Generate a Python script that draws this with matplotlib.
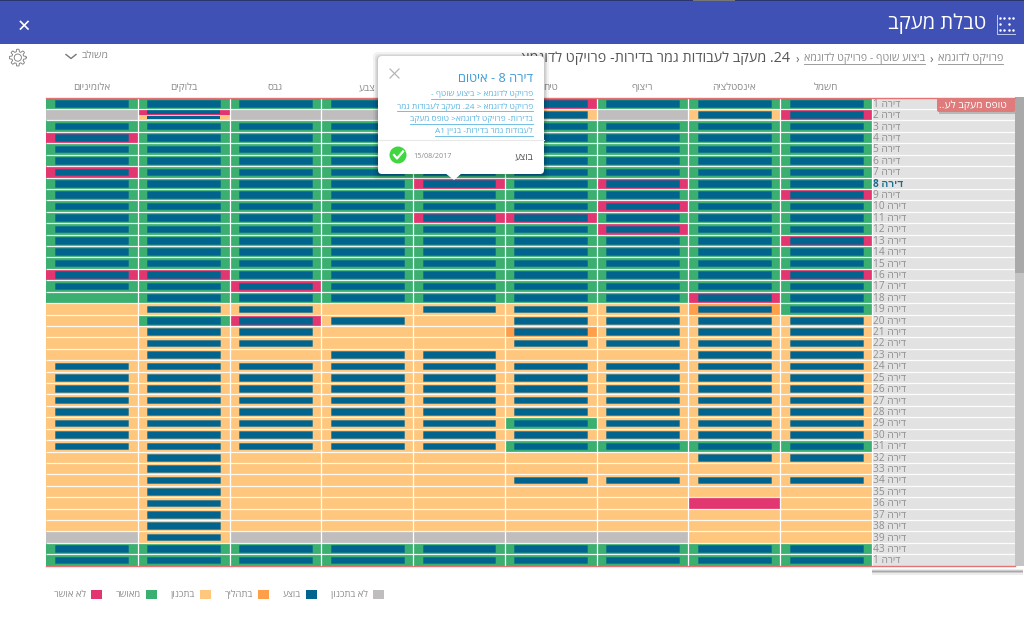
import re
import numpy as np
from matplotlib import pyplot as plt
from matplotlib.patches import Rectangle, FancyBboxPatch, Polygon, Circle

plt.rcParams['font.family'] = ['Open Sans', 'Liberation Sans', 'DejaVu Sans']

# left to right as drawn on screen
columns = ['אלומיניום', 'בלוקים', 'גבס', 'צבע', 'איטום', 'טיח', 'ריצוף', 'אינסטלציה', 'חשמל']
popup_column = 'איטום'  # its header sits behind the popup

row_labels = ['דירה 1', 'דירה 2', 'דירה 3', 'דירה 4', 'דירה 5', 'דירה 6', 'דירה 7', 'דירה 8',
              'דירה 9', 'דירה 10', 'דירה 11', 'דירה 12', 'דירה 13', 'דירה 14', 'דירה 15',
              'דירה 16', 'דירה 17', 'דירה 18', 'דירה 19', 'דירה 20', 'דירה 21', 'דירה 22',
              'דירה 23', 'דירה 24', 'דירה 25', 'דירה 26', 'דירה 27', 'דירה 28', 'דירה 29',
              'דירה 30', 'דירה 31', 'דירה 32', 'דירה 33', 'דירה 34', 'דירה 35', 'דירה 36',
              'דירה 37', 'דירה 38', 'דירה 39', 'דירה 43', 'דירה 1']

# S not planned, P planned, O in progress, G approved, R rejected, X half rejected / half planned
status = ['GGGGGRGGG', 'SXSSSPSPR', 'GGGGGGGGG', 'RGGGGGGGG', 'GGGGGGGGG', 'GGGGGGGGG',
          'RGGGGGGGG', 'GGGGRGRGG', 'GGGGGGGGR', 'GGGGGGRGG', 'GGGGRRGGG', 'GGGGGGRGG',
          'GGGGGGGGR', 'GGGGGGGGG', 'GGGGGGGGG', 'RRGGGGGGR', 'GGRGGGGGG', 'GGGGGGGRG',
          'PPPPPPPOG', 'PGRPPPPPP', 'PPPPPOPPP', 'PPPPPPPPP', 'PPPPPPPPP', 'PPPPPPPPP',
          'PPPPPPPPP', 'PPPPPPPPP', 'PPPPPPPPP', 'PPPPPPPPP', 'PPPPPGPPP', 'PPPPPPPPP',
          'PPPPPGGGG', 'PPPPPPPPP', 'PPPPPPPPP', 'PPPPPPPPP', 'PPPPPPPPP', 'PPPPPPPRP',
          'PPPPPPPPP', 'PPPPPPPPP', 'SPSSSSSPP', 'GGGGGGGGG', 'GGGGGGGGG']

# 1 = executed bar in the cell
executed = ['111111111', '010001011', '111111111', '111111111', '111111111', '111111111',
            '111111111', '111111111', '111111111', '111111111', '111111111', '111111111',
            '111111111', '111111111', '111111111', '111111111', '111111111', '011111111',
            '011011111', '011101111', '011001111', '011001111', '010110011', '111111111',
            '111111111', '111111111', '111111111', '111111111', '111111111', '111111111',
            '111111111', '010000011', '010000000', '010001111', '010000000', '010000000',
            '010000000', '010000000', '010000000', '111111111', '111111111']

legend_labels = ['לא אושר', 'מאושר', 'בתכנון', 'בתהליך', 'בוצע', 'לא בתכנון']
legend_colors = ['#E23670', '#3AAF70', '#FFC77D', '#FF9F4A', '#01648E', '#BFBDBE']

popup_links = ['פרויקט לדוגמא > ביצוע שוטף -',
               'פרויקט לדוגמא > 24. מעקב לעבודות גמר',
               'בדירות- פרויקט לדוגמא> טופס מעקב',
               'לעבודות גמר בדירות- בניין A1']

colors = {'S': '#BFBDBE', 'P': '#FFC77D', 'O': '#FF9F4A', 'G': '#3AAF70', 'R': '#E23670'}
bar_blue = '#01648E'
col_px = 826 / 9


def rtl(s):
    # matplotlib has no bidi, so put the text in visual order
    s = s[::-1]
    return re.sub(r'[0-9A-Za-z/]+', lambda m: m.group()[::-1], s)


def underlined(ax, x, y, s, gap, **kw):
    color = kw.get('color')
    t = ax.text(x, y, rtl(s), ha='right', va='center', **kw)
    box = t.get_window_extent(fig.canvas.get_renderer())
    ax.plot([box.x0, box.x1], [y + gap, y + gap], color=color, lw=0.6)


fig = plt.figure(figsize=(10.24, 6.24), dpi=100)

# page chrome, in pixels
bg = fig.add_axes([0, 0, 1, 1], zorder=0)
bg.set_xlim(0, 1024)
bg.set_ylim(624, 0)
bg.axis('off')

bg.add_patch(Rectangle((0, 0), 1024, 44, color='#3F51B5', lw=0))
bg.add_patch(Rectangle((0, 0), 1024, 1.2, color='#2B3670', lw=0))
bg.add_patch(Rectangle((693, 0), 42, 1.2, color='#777777', lw=0))
bg.plot([20.5, 28], [21.5, 29], color='white', lw=1.2)
bg.plot([20.5, 28], [29, 21.5], color='white', lw=1.2)
bg.text(986, 23.5, rtl('טבלת מעקב'), color='white', fontsize=14.6, ha='right', va='center')

# title icon
bg.plot([996.5, 996.5, 1015], [15, 33.5, 33.5], color='#C5CAE9', lw=0.7)
bg.scatter([1000, 1004.3, 1008.7, 1013, 1000, 1008.7, 1000, 1004.3, 1008.7, 1013],
           [18, 18, 18, 18, 24, 24, 30, 30, 30, 30], s=3.2, color='white', lw=0)

underlined(bg, 1003, 58.5, 'פרויקט לדוגמא', 5, color='#8C8C8C', fontsize=7.9)
bg.text(931, 59, '›', color='#666666', fontsize=8.5, ha='center', va='center')
underlined(bg, 925, 58.5, 'ביצוע שוטף - פרויקט לדוגמא', 5, color='#8C8C8C', fontsize=7.7)
bg.text(797.5, 59, '›', color='#666666', fontsize=8.5, ha='center', va='center')
bg.text(790, 58.5, rtl('24. מעקב לעבודות גמר בדירות- פרויקט לדוגמא'), color='#555555',
        fontsize=10.4, ha='right', va='center')

bg.text(109, 56, rtl('משולב'), color='#8C8C8C', fontsize=7.5, ha='right', va='center')
bg.plot([66, 71, 76], [54.5, 58.5, 54.5], color='#777777', lw=1)

# settings gear
ang = np.linspace(0, 2 * np.pi, 193)
gear_r = 7.2 + 1.2 * np.clip(2.5 * np.cos(8 * ang), -1, 1)
bg.plot(17.8 + gear_r * np.cos(ang), 57.6 + gear_r * np.sin(ang), color='#777777', lw=0.6)
bg.add_patch(Circle((17.8, 57.6), 3.6, fill=False, ec='#777777', lw=0.6))

# side panel scrollbar and shadow
bg.add_patch(Rectangle((1015, 97), 9, 469, color='#C4C4C4', lw=0))
bg.add_patch(Rectangle((1015, 97), 9, 176, color='#A9A9A9', lw=0))
for i, a in enumerate([0.1, 0.3, 0.5, 0.3, 0.1]):
    bg.add_patch(Rectangle((872, 569 + i * 1.1), 151, 1.1, color='#555555', alpha=a, lw=0))

# the tracking grid, running on through the label panel
ax = fig.add_axes([46 / 1024, 1 - 565.7 / 624, 969 / 1024, 468.1 / 624], zorder=1)
ax.patch.set_visible(False)
ax.set_xlim(0, 969 / col_px)
ax.set_ylim(len(row_labels), 0)
ax.set_frame_on(False)

for r, label in enumerate(row_labels):
    ax.barh(r + 0.5, 969 / col_px - 9, left=9, height=1, color='#E2E2E2', lw=0)
    for c in range(len(columns)):
        code = status[r][c]
        on = executed[r][c] == '1'
        if code == 'X':
            # two activities stacked in a single cell
            ax.barh(r + 0.25, 1, left=c, height=0.5, color=colors['R'], lw=0)
            ax.barh(r + 0.75, 1, left=c, height=0.5, color=colors['P'], lw=0)
            for off in [0.25, 0.75]:
                ax.barh(r + off, 0.795, left=c + 0.1025, height=0.3, color=bar_blue, lw=0)
            continue
        ax.barh(r + 0.5, 1, left=c, height=1, color=colors[code], lw=0)
        if on:
            ax.barh(r + 0.5, 0.795, left=c + 0.1025, height=0.58, color=bar_blue,
                    edgecolor=(0.0, 0.39, 0.56, 0.4), lw=0.7)
    bold = r == 7
    ax.text(9.015, r + 0.58, rtl(label), ha='left', va='center', fontsize=7.3,
            color='#1B6E90' if bold else '#8F8F8F', fontweight='bold' if bold else 'normal')

ax.hlines(np.arange(1, len(row_labels)), 0, 969 / col_px, color='white', lw=0.9, alpha=0.9)
ax.vlines(np.arange(1, len(columns) + 1), 0, len(row_labels), color='white', lw=0.9)
ax.axhline(0, color='#E57373', lw=1, clip_on=False)
ax.axhline(len(row_labels), color='#E57373', lw=1, clip_on=False)

ax.set_yticks([])
ax.set_xticks(np.arange(len(columns)) + 0.5)
ax.set_xticklabels(['' if c == popup_column else rtl(c) for c in columns],
                   fontsize=7.2, color='#8C8C8C')
ax.tick_params(axis='x', length=0, top=False, bottom=False, labeltop=True,
               labelbottom=False, pad=3)

handles = [Rectangle((0, 0), 1, 1, color=c, lw=0) for c in legend_colors]
ax.legend(handles, [rtl(s) for s in legend_labels], ncol=6, loc='center left',
          bbox_to_anchor=(54 / 1024, 1 - 594.5 / 624), bbox_transform=fig.transFigure,
          frameon=False, markerfirst=False, fontsize=6.8, labelcolor='#8C8C8C',
          handlelength=1.16, handleheight=1.16, handletextpad=0.53, columnspacing=1.47,
          borderpad=0, borderaxespad=0)

# things floating above the grid
top = fig.add_axes([0, 0, 1, 1], zorder=2)
top.set_xlim(0, 1024)
top.set_ylim(624, 0)
top.axis('off')

# template tag over the label panel
top.add_patch(Rectangle((939, 100), 76, 14, color='#555555', alpha=0.3, lw=0))
top.add_patch(FancyBboxPatch((937, 98), 78, 14, boxstyle='round,pad=0,rounding_size=2',
                             color='#E07B7B', lw=0))
top.text(1007, 105, rtl('טופס מעקב לע..'), color='white', fontsize=7.5, ha='right', va='center')

# popup for the selected cell
for g, a in [(5, 0.05), (3, 0.07), (1.5, 0.1)]:
    top.add_patch(FancyBboxPatch((378 - g, 56 - g + 1), 166 + 2 * g, 118 + 2 * g,
                                 boxstyle='round,pad=0,rounding_size=5',
                                 color='black', alpha=a, lw=0))
top.add_patch(Polygon([[445, 173], [462, 173], [454, 180]], color='white', lw=0))
top.add_patch(FancyBboxPatch((378, 56), 166, 118, boxstyle='round,pad=0,rounding_size=4',
                             color='white', lw=0))
top.plot([390, 399], [69, 78], color='#B5B5B5', lw=0.9)
top.plot([390, 399], [78, 69], color='#B5B5B5', lw=0.9)
top.text(533, 79, rtl('דירה 8 - איטום'), color='#3C9BD6', fontsize=9.2, ha='right', va='center')
for y, line in zip([94, 106.5, 119, 131], popup_links):
    underlined(top, 533, y, line, 4.5, color='#5BB5E0', fontsize=6.05)
top.plot([378, 544], [140, 140], color='#E8E8E8', lw=0.8)
top.add_patch(Circle((398, 155), 8.5, color='#3FD63F', lw=0))
top.plot([394, 397, 403], [155, 158.5, 151.5], color='white', lw=1.6)
top.text(413, 157, '15/08/2017', color='#8C8C8C', fontsize=5.2, ha='left', va='center')
top.text(533, 157, rtl('בוצע'), color='#555555', fontsize=7, ha='right', va='center')

plt.savefig('out.png', dpi=100)
